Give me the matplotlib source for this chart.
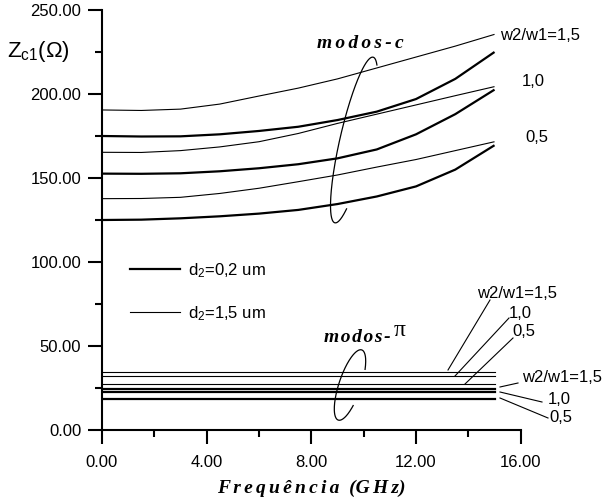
import numpy as np
import matplotlib
matplotlib.use("Agg")
import matplotlib.pyplot as plt
from matplotlib.ticker import MultipleLocator, FormatStrFormatter

plt.rcParams['font.family'] = ['Liberation Sans', 'DejaVu Sans']
plt.rcParams['mathtext.fontset'] = 'custom'
plt.rcParams['mathtext.rm'] = 'Liberation Sans'
plt.rcParams['mathtext.it'] = 'Liberation Sans:italic'
plt.rcParams['mathtext.bf'] = 'Liberation Sans:bold'

# Data
freq = [0.0, 1.5, 3.0, 4.5, 6.0, 7.5, 9.0, 10.5, 12.0, 13.5, 15.0]

# modos-c, d2 = 1,5 um (thin)
zc_thin_15 = [190.5, 190.2, 191.0, 194.0, 198.8, 203.5, 209.0, 215.5, 222.0, 228.5, 235.5]
zc_thin_10 = [165.3, 165.2, 166.3, 168.5, 171.6, 176.5, 182.5, 188.0, 193.5, 199.0, 204.4]
zc_thin_05 = [137.7, 137.8, 138.5, 140.8, 143.9, 147.8, 151.8, 156.5, 161.0, 166.3, 171.6]
# modos-c, d2 = 0,2 um (thick)
zc_thick_15 = [175.0, 174.7, 174.8, 176.0, 178.0, 180.5, 184.5, 189.5, 197.0, 209.0, 225.0]
zc_thick_10 = [152.6, 152.5, 152.8, 154.0, 155.8, 158.2, 161.7, 167.0, 176.0, 188.0, 202.6]
zc_thick_05 = [125.0, 125.2, 126.0, 127.2, 128.8, 131.0, 134.5, 139.0, 145.0, 155.0, 169.5]

# modos-pi (flat)
zpi_thin = [34.5, 32.1, 27.2]     # w2/w1 = 1,5 / 1,0 / 0,5
zpi_thick = [24.6, 22.4, 18.3]

ratio_labels = ["w2/w1=1,5", "1,0", "0,5"]
legend_labels = ["d$_2$=0,2 um", "d$_2$=1,5 um"]

W, H = 603, 501
fig = plt.figure(figsize=(W / 100, H / 100), dpi=100)
ax = fig.add_axes([102 / W, 71 / H, 418.7 / W, 420 / H])

THICK = 1.6
THIN = 0.8

f = np.array(freq)
for ys in [zc_thick_15, zc_thick_10, zc_thick_05]:
    ax.plot(f, ys, color='black', lw=THICK, solid_capstyle='butt')
for ys in [zc_thin_15, zc_thin_10, zc_thin_05]:
    ax.plot(f, ys, color='black', lw=THIN, solid_capstyle='butt')
for v in zpi_thin:
    ax.plot(f, np.full(len(f), v), color='black', lw=THIN)
for v in zpi_thick:
    ax.plot(f, np.full(len(f), v), color='black', lw=THICK)

h1, = ax.plot([], [], color='black', lw=THICK)
h2, = ax.plot([], [], color='black', lw=THIN)
ax.legend([h1, h2], legend_labels, loc='upper left', frameon=False,
          bbox_to_anchor=(130 / W, 1 - 261 / H), bbox_transform=fig.transFigure,
          borderpad=0, borderaxespad=0, handlelength=3.0, handletextpad=0.45,
          labelspacing=1.45, fontsize=12)

ax.set_xlim(0, 16)
ax.set_ylim(0, 250)
ax.xaxis.set_major_locator(MultipleLocator(4))
ax.xaxis.set_minor_locator(MultipleLocator(2))
ax.yaxis.set_major_locator(MultipleLocator(50))
ax.yaxis.set_minor_locator(MultipleLocator(25))
ax.xaxis.set_major_formatter(FormatStrFormatter('%.2f'))
ax.yaxis.set_major_formatter(FormatStrFormatter('%.2f'))
ax.spines['top'].set_visible(False)
ax.spines['right'].set_visible(False)
for s in ['left', 'bottom']:
    ax.spines[s].set_linewidth(1.5)
ax.tick_params(which='major', direction='out', length=10, width=1.5, labelsize=12)
ax.tick_params(which='minor', direction='out', length=5, width=1.5)
ax.tick_params(axis='y', pad=5)
ax.tick_params(axis='x', pad=8)


def fp(px, py):
    # figure pixel (top-left origin) -> figure fraction
    return (px / W, 1 - py / H)


SP = "\u2006"

# axis titles
fig.text(*fp(7, 52), "Z$_{\\mathrm{c1}}$(Ω)", fontsize=16, ha='left', va='center')
fig.text(*fp(311, 488), SP.join("Frequência") + "  (" + SP.join("GHz") + ")",
         family='Liberation Serif', weight='bold', style='italic', fontsize=14,
         ha='center', va='center')

# mode labels
fig.text(*fp(360, 43), SP.join("modos-c"), family='Liberation Serif',
         weight='bold', style='italic', fontsize=14, ha='center', va='center')
fig.text(*fp(391, 337), "\u200a".join("modos-"), family='Liberation Serif',
         weight='bold', style='italic', fontsize=14, ha='right', va='center')
fig.text(*fp(394, 331), "π", family='Liberation Serif', fontsize=17,
         ha='left', va='center')


def loop(cx, cy, a, b, ang, t0, t1):
    t = np.radians(np.linspace(t0, t1, 200))
    th = np.radians(ang)
    u = np.array([np.cos(th), np.sin(th)])
    v = np.array([-np.sin(th), np.cos(th)])
    X = cx + a * np.cos(t) * u[0] + b * np.sin(t) * v[0]
    Y = (H - cy) + a * np.cos(t) * u[1] + b * np.sin(t) * v[1]
    fig.add_artist(plt.Line2D(X / W, Y / H, color='black', lw=0.9))


loop(354, 140, 85, 14, 77, -23, 216)
loop(350, 385, 37, 11, 71.5, -58, 240)

# ratio labels, modos-c
for lab, (px, py) in zip(ratio_labels, [(500, 35), (522, 82), (525, 137)]):
    fig.text(*fp(px, py), lab, fontsize=12, ha='left', va='center')


def leader(p0, p1):
    fig.add_artist(plt.Line2D([p0[0] / W, p1[0] / W], [1 - p0[1] / H, 1 - p1[1] / H],
                              color='black', lw=0.8))


# ratio labels, modos-pi (upper group: d2=1,5; lower group: d2=0,2)
for lab, pos, a0, a1 in zip(ratio_labels,
                            [(477, 293), (509, 313), (512, 332)],
                            [(448, 370), (455, 376), (465, 384)],
                            [(490, 300), (509, 318), (513, 338)]):
    fig.text(*fp(*pos), lab, fontsize=12, ha='left', va='center')
    leader(a0, a1)

for lab, pos, a0, a1 in zip(ratio_labels,
                            [(522, 378), (548, 400), (549, 418)],
                            [(500, 387), (500, 392), (500, 398)],
                            [(518, 383), (542, 402), (548, 418)]):
    fig.text(*fp(*pos), lab, fontsize=12, ha='left', va='center')
    leader(a0, a1)

fig.savefig("out.png", dpi=100)
